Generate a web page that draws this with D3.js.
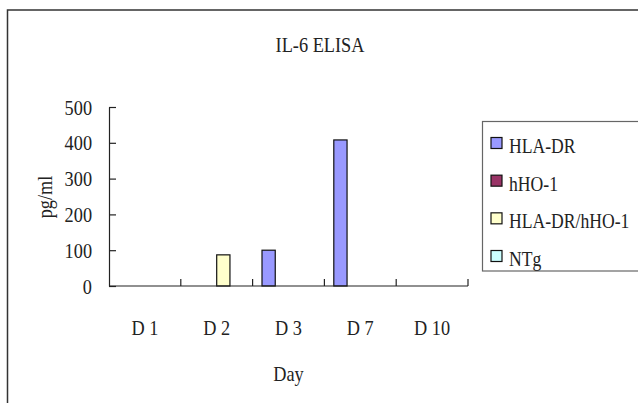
<!DOCTYPE html>
<html><head><meta charset="utf-8">
<script src="https://cdn.jsdelivr.net/npm/d3@7"></script>
<style>html,body{margin:0;padding:0;background:#fff;}svg{display:block;}text{font-family:"Liberation Serif","DejaVu Serif",serif;fill:#222;}</style>
</head><body>
<script>
const categories = ["D 1", "D 2", "D 3", "D 7", "D 10"];
const seriesNames = ["HLA-DR", "hHO-1", "HLA-DR/hHO-1", "NTg"];
const seriesColors = ["#9999FF", "#993366", "#FFFFCC", "#CCFFFF"];
const hlaDR = [0, 0, 100, 408, 0];
const hHO1 = [0, 0, 0, 0, 0];
const hlaDRhHO1 = [0, 87, 0, 0, 0];
const ntg = [0, 0, 0, 0, 0];
const yTicks = [0, 100, 200, 300, 400, 500];
const seriesValues = [hlaDR, hHO1, hlaDRhHO1, ntg];

(function(){
const W = 638, H = 403;
const svg = d3.select("body").append("svg").attr("width", W).attr("height", H);
const FS = 21, SQ = 0.87;
function condense(sel, f){ const k = f || SQ; sel.each(function(){ const l=this.getComputedTextLength(); d3.select(this).attr("textLength", l*k).attr("lengthAdjust","spacingAndGlyphs"); }); }

// outer frame
svg.append("path").attr("d", `M7.5,${H} V10 H${W}`).attr("fill","none").attr("stroke","#333").attr("stroke-width",1.5);

const pL = 109, pR = 468, pT = 107, pB = 286;
const x0 = d3.scaleBand().domain(categories).range([pL, pR]);
const groupW = 53;
const x1 = d3.scaleBand().domain(seriesNames).range([0, groupW]);
const y = d3.scaleLinear().domain([0, 500]).range([pB, pT]);

// title
svg.append("text").attr("x", 320).attr("y", 52).attr("text-anchor","middle").attr("font-size",FS).text("IL-6 ELISA").call(condense);

// bars
seriesNames.forEach((s, si) => {
  svg.append("g").selectAll("rect").data(seriesValues[si].map((v,i)=>({v, c: categories[i]})).filter(d=>d.v>0))
    .join("rect")
    .attr("x", d => x0(d.c) + (x0.bandwidth()-groupW)/2 + x1(s))
    .attr("width", x1.bandwidth())
    .attr("y", d => y(d.v))
    .attr("height", d => y(0) - y(d.v))
    .attr("fill", seriesColors[si]).attr("stroke", "#111").attr("stroke-width", 1.2);
});

// y axis
const yAxis = d3.axisLeft(y).tickValues(yTicks).tickSizeInner(-7).tickSizeOuter(0).tickPadding(17);
const gy = svg.append("g").attr("transform", `translate(${pL},0)`).call(yAxis);
gy.select(".domain").attr("stroke","#222").attr("stroke-width",1.2);
gy.selectAll(".tick line").attr("stroke","#222").attr("stroke-width",1.2);
gy.selectAll(".tick text").attr("font-size",FS).attr("font-family","Liberation Serif").attr("fill","#222").attr("dy","0.34em").call(condense);

// x axis
const gx = svg.append("g").attr("transform", `translate(0,${pB})`);
gx.append("line").attr("x1", pL).attr("x2", pR).attr("stroke","#222").attr("stroke-width",1.2);
const bounds = categories.map(c => x0(c)).concat([pR]).slice(1);
gx.selectAll("line.tk").data(bounds).join("line").attr("class","tk")
  .attr("x1", d=>d).attr("x2", d=>d).attr("y1", 0).attr("y2", -7).attr("stroke","#222").attr("stroke-width",1.2);
gx.selectAll("text").data(categories).join("text")
  .attr("x", d => x0(d) + x0.bandwidth()/2).attr("y", 49).attr("text-anchor","middle").attr("font-size",FS).text(d=>d).call(condense);

// axis titles
svg.append("text").attr("x", (pL+pR)/2).attr("y", 381).attr("text-anchor","middle").attr("font-size",FS).text("Day").call(condense);
svg.append("text").attr("transform", `translate(52,197) rotate(-90)`).attr("text-anchor","middle").attr("font-size",FS).text("pg/ml").call(condense);

// legend
const lg = svg.append("g");
lg.append("rect").attr("x", 482.5).attr("y", 121.5).attr("width", 200).attr("height", 149.5).attr("fill","none").attr("stroke","#666").attr("stroke-width",1.2);
const rowY = d3.scalePoint().domain(seriesNames).range([143, 256]);
seriesNames.forEach((s, i) => {
  lg.append("rect").attr("x", 491).attr("y", rowY(s)-5.5).attr("width", 11).attr("height", 11)
    .attr("fill", seriesColors[i]).attr("stroke","#111").attr("stroke-width",1.2);
  lg.append("text").attr("transform", `translate(509,${rowY(s)+10}) scale(0.84,1)`).attr("font-size",FS).text(s);
});
})();
</script>
</body></html>
